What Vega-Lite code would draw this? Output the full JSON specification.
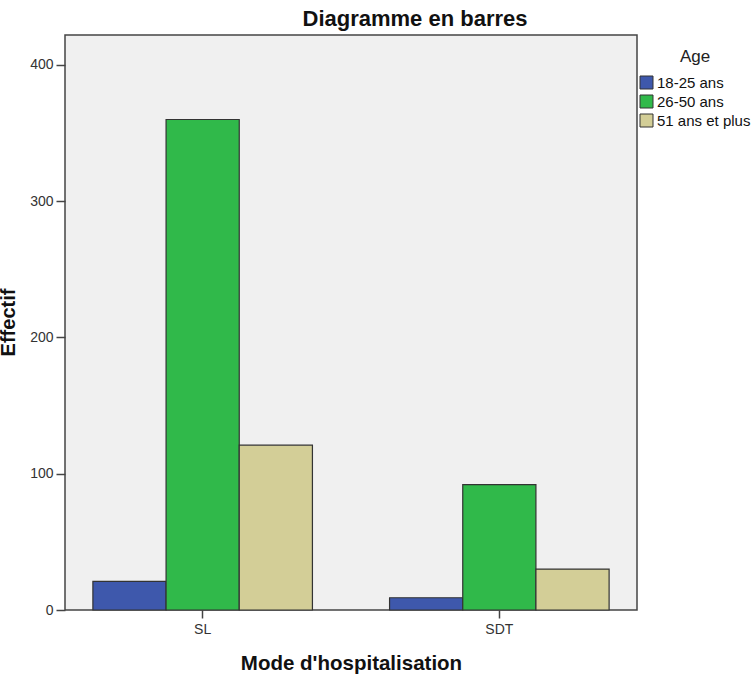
{
  "$schema": "https://vega.github.io/schema/vega-lite/v6.json",
  "autosize": {"type": "none"},
  "padding": {"left": 65, "top": 35, "right": 117, "bottom": 65},
  "width": 572,
  "height": 575,
  "background": "white",
  "title": {
    "text": "Diagramme en barres",
    "font": "Liberation Sans",
    "fontSize": 22,
    "fontWeight": "bold",
    "color": "#111",
    "anchor": "middle",
    "frame": "group",
    "dx": 64,
    "dy": 21,
    "baseline": "alphabetic",
    "offset": 8
  },
  "config": {
    "view": {"fill": "#f0f0f0", "stroke": "#444", "strokeWidth": 1.5},
    "font": "Liberation Sans"
  },
  "data": {
    "values": [
      {"Mode": "SL", "Age": "18-25 ans", "Effectif": 21},
      {"Mode": "SL", "Age": "26-50 ans", "Effectif": 360},
      {"Mode": "SL", "Age": "51 ans et plus", "Effectif": 121},
      {"Mode": "SDT", "Age": "18-25 ans", "Effectif": 9},
      {"Mode": "SDT", "Age": "26-50 ans", "Effectif": 92},
      {"Mode": "SDT", "Age": "51 ans et plus", "Effectif": 30}
    ]
  },
  "mark": {"type": "bar", "stroke": "#333", "strokeWidth": 1.2},
  "encoding": {
    "x": {
      "field": "Mode",
      "type": "nominal",
      "sort": ["SL", "SDT"],
      "scale": {"paddingInner": 0.26, "paddingOuter": 0.094},
      "axis": {
        "title": "Mode d'hospitalisation",
        "titleFont": "Liberation Sans",
        "titleFontSize": 20.5,
        "titleFontWeight": "bold",
        "titleColor": "#111",
        "titleY": 59,
        "titleBaseline": "alphabetic",
        "labelAngle": 0,
        "labelFontSize": 14,
        "labelColor": "#333",
        "labelPadding": 4,
        "tickSize": 8,
        "tickColor": "#444",
        "tickWidth": 1.5,
        "domain": false
      }
    },
    "xOffset": {"field": "Age", "type": "nominal", "scale": {"paddingInner": 0, "paddingOuter": 0}},
    "y": {
      "field": "Effectif",
      "type": "quantitative",
      "scale": {"domain": [0, 422], "nice": false},
      "axis": {
        "title": "Effectif",
        "values": [0, 100, 200, 300, 400],
        "grid": false,
        "domain": false,
        "titleFont": "Liberation Sans",
        "titleFontSize": 20,
        "titleFontWeight": "bold",
        "titleColor": "#111",
        "titleX": -51,
        "titleY": 287,
        "titleBaseline": "alphabetic",
        "titleAngle": -90,
        "titleAlign": "center",
        "labelFontSize": 14,
        "labelColor": "#333",
        "labelPadding": 3,
        "tickSize": 9,
        "tickColor": "#444",
        "tickWidth": 1.5
      }
    },
    "color": {
      "field": "Age",
      "type": "nominal",
      "scale": {
        "domain": ["18-25 ans", "26-50 ans", "51 ans et plus"],
        "range": ["#3e58ac", "#30b94a", "#d3ce97"]
      },
      "legend": {
        "title": "Age",
        "orient": "none",
        "legendX": 574,
        "legendY": 14,
        "titleFont": "Liberation Sans",
        "titleFontSize": 17,
        "titleFontWeight": "normal",
        "titleColor": "#222",
        "titleAnchor": "middle",
        "titlePadding": 9,
        "labelFont": "Liberation Sans",
        "labelFontSize": 15,
        "labelColor": "#111",
        "labelOffset": 3,
        "symbolType": "square",
        "symbolSize": 169,
        "symbolStrokeColor": "#333",
        "symbolStrokeWidth": 1,
        "rowPadding": 2
      }
    }
  }
}
